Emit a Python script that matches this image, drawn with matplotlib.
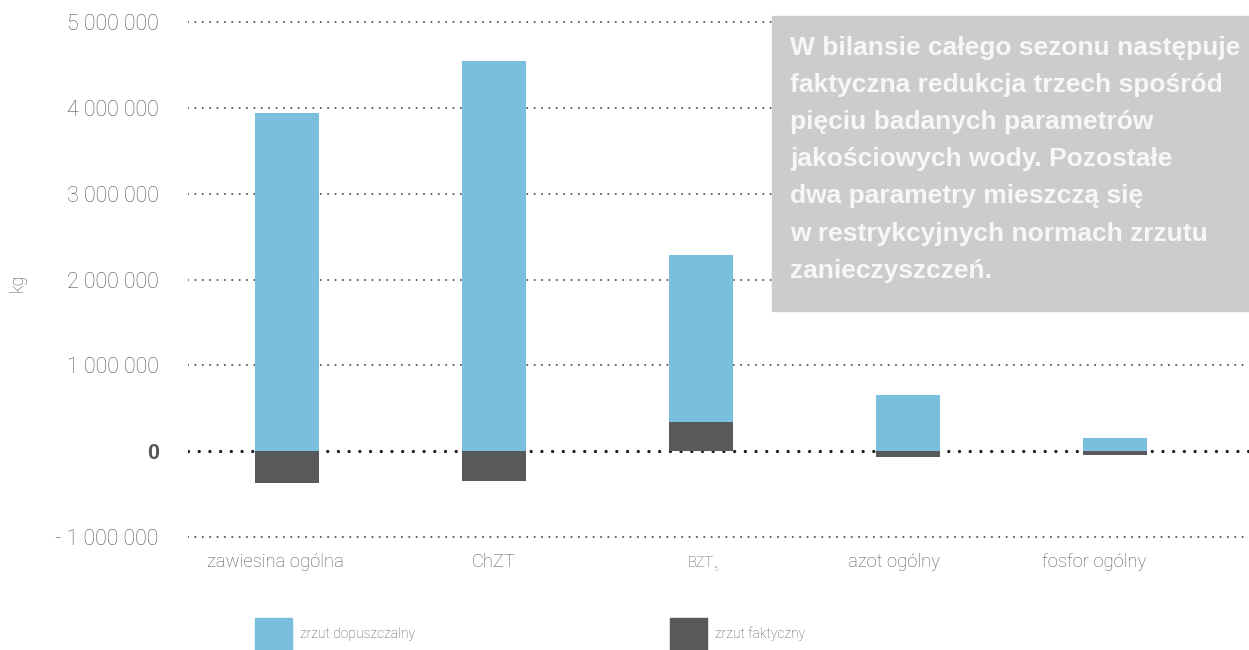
import numpy as np
import matplotlib
matplotlib.use("Agg")
import matplotlib.pyplot as plt
from matplotlib.patches import Patch

plt.rcParams['lines.scale_dashes'] = False

# ładunki w kg za cały sezon
kategorie = ['zawiesina ogólna', 'ChZT', 'BZT', 'azot ogólny', 'fosfor ogólny']
zrzut_dopuszczalny = [3.94e6, 4.55e6, 2.28e6, 0.65e6, 0.15e6]
zrzut_faktyczny = [-0.37e6, -0.35e6, 0.34e6, -0.065e6, -0.05e6]

y_ticks = [-1e6, 0, 1e6, 2e6, 3e6, 4e6, 5e6]
y_labels = ['- 1 000 000', '0', '1 000 000', '2 000 000', '3 000 000', '4 000 000', '5 000 000']

opis = ("W bilansie całego sezonu następuje\n"
        "faktyczna redukcja trzech spośród\n"
        "pięciu badanych parametrów\n"
        "jakościowych wody. Pozostałe\n"
        "dwa parametry mieszczą się\n"
        "w restrykcyjnych normach zrzutu\n"
        "zanieczyszczeń.")

niebieski = '#7bbfde'
grafit = '#58595b'
szary = '#555555'
light = dict(family='Roboto', weight='light')

fig = plt.figure(figsize=(12.49, 6.5), dpi=100)
ax = fig.add_axes([188 / 1249, 0.1606, 1 - 188 / 1249, 0.8188])

x = np.arange(len(kategorie))
ax.set_xlim(-0.478, 4.647)
ax.set_ylim(-1.1e6, 5.1e6)

# kropkowane linie siatki, zero grubszą kropką
for t in y_ticks:
    if t == 0:
        ax.axhline(0, color='#1e1e1e', lw=2.4, linestyle=(0, (0.01, 7.7)),
                   dash_capstyle='round', zorder=1)
    else:
        ax.axhline(t, color='#555555', lw=1.5, linestyle=(0, (0.01, 5.3)),
                   dash_capstyle='round', zorder=1)

ax.bar(x, zrzut_dopuszczalny, width=0.305, color=niebieski, zorder=2)
ax.bar(x, zrzut_faktyczny, width=0.305, color=grafit, zorder=3)

for s in ax.spines.values():
    s.set_visible(False)
ax.set_xticks([])
ax.set_yticks(y_ticks)
ax.set_yticklabels(y_labels, color=szary, fontsize=15.5, **light)
ax.tick_params(axis='y', length=0, pad=21)
for lab in ax.get_yticklabels():
    if lab.get_text() == '0':
        lab.set_fontweight('bold')
        lab.set_family('Liberation Sans')

# podpisy kategorii, lekko przesunięte w lewo
przesuniecie = [-8, 0, 0, -10, -15]
for i, k in enumerate(kategorie):
    fs = 10.5 if k == 'BZT' else 13.3
    t = ax.annotate(k, (x[i], -1e6), xytext=(przesuniecie[i], -21.6),
                    textcoords='offset points', ha='center', va='baseline',
                    color=szary, fontsize=fs, **light)
    if k == 'BZT':
        # indeks dolny w BZT5
        ax.annotate('5', (1, 0), xycoords=t, xytext=(-0.3, -1.5),
                    textcoords='offset points', ha='left', va='bottom',
                    color=szary, fontsize=6, **light)

fig.text(18 / 1249, 1 - 283 / 650, 'kg', rotation=90, ha='center', va='center',
         color=szary, fontsize=13, **light)

# ramka z komentarzem
fig.patches.append(plt.Rectangle((772 / 1249, 1 - 311 / 650), 1, 295 / 650,
                                 transform=fig.transFigure, color='#cccccb',
                                 zorder=0))
fig.text(790 / 1249, 1 - 36 / 650, opis, ha='left', va='top', color='#f7f7f7',
         fontsize=19, fontweight='bold', family='Liberation Sans',
         linespacing=1.69)

uchwyty = [Patch(color=niebieski, label='zrzut dopuszczalny'),
           Patch(color=grafit, label='zrzut faktyczny')]
fig.legend(handles=uchwyty, loc='lower left', bbox_to_anchor=(255 / 1249, 0),
           ncol=2, frameon=False, borderpad=0, borderaxespad=0,
           handlelength=2.66, handleheight=3.165, handletextpad=0.55,
           columnspacing=18.4, prop=dict(size=10, **light), labelcolor=szary)

fig.savefig('out.png', dpi=100)
